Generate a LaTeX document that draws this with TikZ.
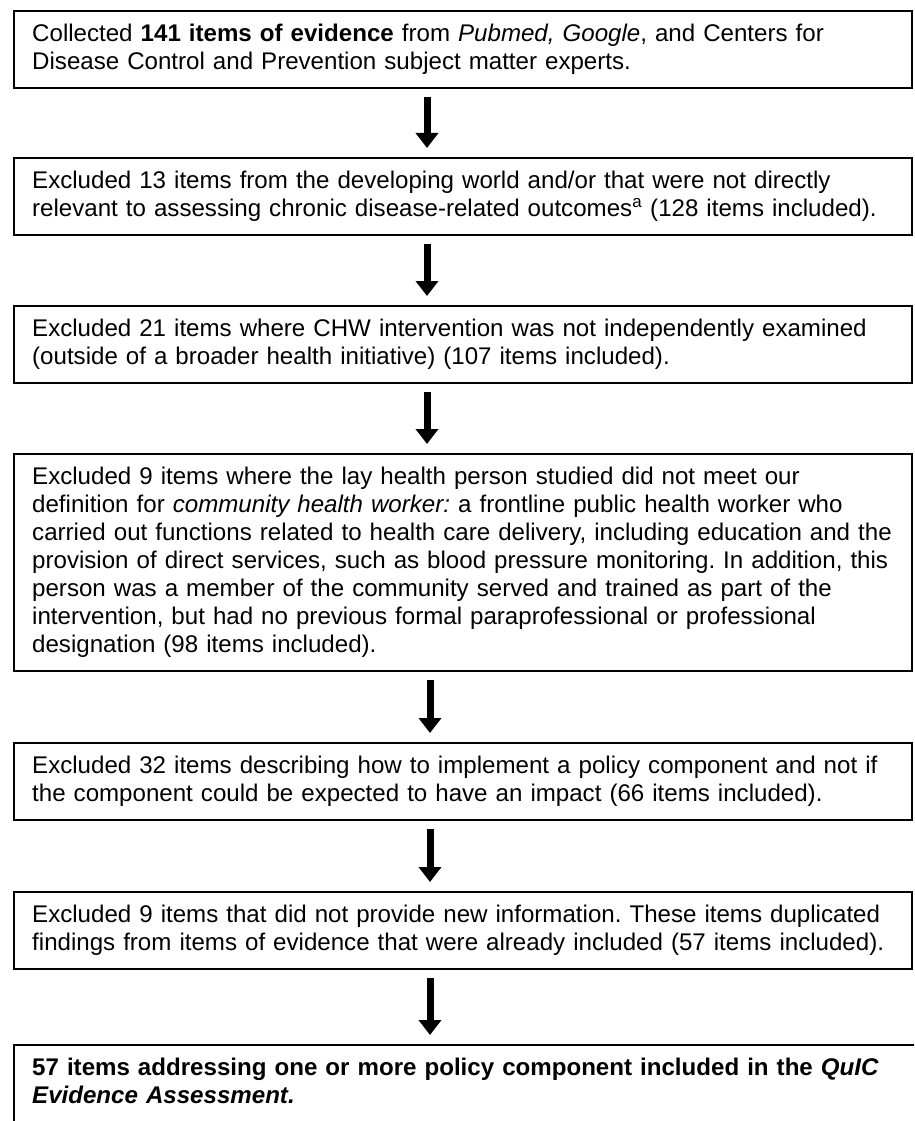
\documentclass[tikz,border=0pt]{standalone}
\usepackage{fontspec}
\setmainfont{Liberation Sans}
\usetikzlibrary{arrows.meta}
\newcommand\oneline[1]{\mbox{#1}}
\begin{document}
\frenchspacing
\hbadness=10000 \hfuzz=100pt
\begin{tikzpicture}[x=1pt,y=1pt,
  box/.style={draw=black, line width=2.4pt, anchor=north west, align=left,
    text width=862pt, inner xsep=18pt, inner ysep=8pt, text height=22pt,
    font=\fontsize{24.1}{28}\selectfont\frenchspacing},
  twolines/.style={text depth=39pt},
  flowarrow/.style={line width=7pt, -{Triangle[width=22pt,length=15pt]},
    shorten <=8pt, shorten >=9pt}
]
\clip (0,0) rectangle (914,-1121);
\fill[white] (0,0) rectangle (914,-1121);

\node[box,twolines] (b1) at (13,-10) {\oneline{Collected \textbf{141 items of evidence} from \textit{Pubmed, Google}, and Centers for}\\
\oneline{Disease Control and Prevention subject matter experts.}};

\node[box,twolines] (b2) at (13,-157) {\oneline{Excluded 13 items from the developing world and/or that were not directly}\\
\oneline{relevant to assessing chronic disease-related outcomes\textsuperscript{a} (128 items included).}};

\node[box,twolines] (b3) at (13,-305) {\oneline{Excluded 21 items where CHW intervention was not independently examined}\\
\oneline{(outside of a broader health initiative) (107 items included).}};

\node[box,text depth=179pt] (b4) at (13,-453) {\oneline{Excluded 9 items where the lay health person studied did not meet our}\\
\oneline{definition for \textit{community health worker:} a frontline public health worker who}\\
\oneline{carried out functions related to health care delivery, including education and the}\\
\oneline{provision of direct services, such as blood pressure monitoring. In addition, this}\\
\oneline{person was a member of the community served and trained as part of the}\\
\oneline{intervention, but had no previous formal paraprofessional or professional}\\
\oneline{designation (98 items included).}};

\node[box,twolines] (b5) at (13,-742) {\oneline{Excluded 32 items describing how to implement a policy component and not if}\\
\oneline{the component could be expected to have an impact (66 items included).}};

\node[box,twolines] (b6) at (13,-891) {\oneline{Excluded 9 items that did not provide new information. These items duplicated}\\
\oneline{findings from items of evidence that were already included (57 items included).}};

\node[box,text width=960pt,text depth=200pt,font=\fontsize{24.1}{28}\selectfont\bfseries] (b7) at (13,-1044) {\oneline{57 items addressing one or more policy component included in the \textit{QuIC}}\\
\oneline{\textit{Evidence Assessment.}}};

\coordinate (ax1) at (427,0);
\coordinate (ax2) at (430,0);

\draw[flowarrow] (b1.south -| ax1) -- (b2.north -| ax1);
\draw[flowarrow] (b2.south -| ax1) -- (b3.north -| ax1);
\draw[flowarrow] (b3.south -| ax1) -- (b4.north -| ax1);
\draw[flowarrow] (b4.south -| ax2) -- (b5.north -| ax2);
\draw[flowarrow] (b5.south -| ax2) -- (b6.north -| ax2);
\draw[flowarrow] (b6.south -| ax2) -- (b7.north -| ax2);
\end{tikzpicture}
\end{document}
